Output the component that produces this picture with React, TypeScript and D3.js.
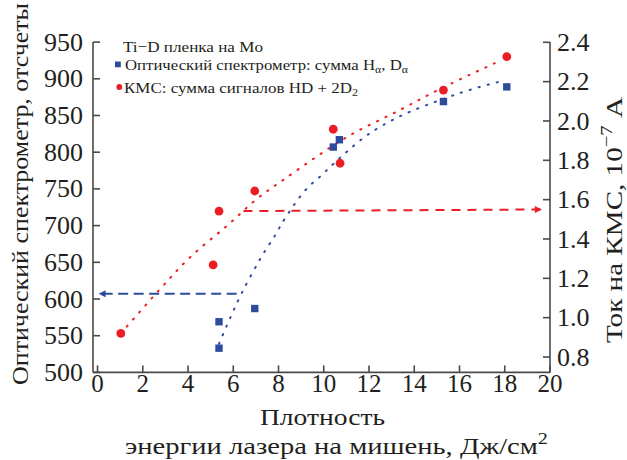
import React from "react";
import * as d3 from "d3";

const xTicks = [0, 2, 4, 6, 8, 10, 12, 14, 16, 18, 20];
const leftTicks = [500, 550, 600, 650, 700, 750, 800, 850, 900, 950];
const rightTicks = [0.8, 1.0, 1.2, 1.4, 1.6, 1.8, 2.0, 2.2, 2.4];

// Optical spectrometer (left axis), counts
const opticalX = [5.37, 5.37, 6.95, 10.42, 10.69, 15.29, 18.09];
const opticalY = [533, 569, 587, 807, 817, 869, 889];

// KMS signal (right axis), 10^-7 A
const kmsX = [1.03, 5.11, 5.37, 6.95, 10.42, 10.72, 15.29, 18.09];
const kmsY = [0.92, 1.268, 1.542, 1.644, 1.958, 1.785, 2.157, 2.327];

// Dotted trend lines
const opticalFitX = [5.37, 5.86, 6.39, 7.19, 7.85, 8.29, 9.18, 9.88, 10.46, 11.07, 12.0, 13.37, 15.14, 16.47, 17.88];
const opticalFitY = [539, 574, 609, 654.5, 687, 710, 748, 768, 785, 802, 825, 849, 871, 885, 897];
const kmsFitX = [1.03, 2.69, 4.09, 5.71, 7.04, 8.29, 11.02, 13.37, 15.29, 17.87];
const kmsFitY = [0.92, 1.136, 1.307, 1.466, 1.603, 1.707, 1.918, 2.056, 2.171, 2.31];

// Dashed arrows
const opticalArrowX = [6.15, 0.05];
const opticalArrowY = [607, 607];
const kmsArrowX = [6.45, 19.64];
const kmsArrowY = [1.542, 1.55];

const RED = "#ec1c24";
const BLUE = "#2d4d9c";
const AXIS = "#4a4a4a";
const TEXT = "#231f20";
const FONT = "Liberation Serif, Times New Roman, DejaVu Serif, serif";

export default function App() {
  const x = d3.scaleLinear().domain([-0.2, 20]).range([93, 550]);
  const yL = d3.scaleLinear().domain([500, 950]).range([372.4, 42.1]);
  const yR = d3.scaleLinear().domain([0.8, 2.4]).range([357, 42.3]);

  const optFit = d3
    .line<number>()
    .x((d, i) => x(opticalFitX[i]))
    .y((d, i) => yL(opticalFitY[i]))
    .curve(d3.curveCatmullRom.alpha(0.5))(opticalFitX);
  const kmsFit = d3
    .line<number>()
    .x((d, i) => x(kmsFitX[i]))
    .y((d, i) => yR(kmsFitY[i]))
    .curve(d3.curveCatmullRom.alpha(0.5))(kmsFitX);
  const optArrow = d3
    .line<number>()
    .x((d, i) => x(opticalArrowX[i]))
    .y((d, i) => yL(opticalArrowY[i]))(opticalArrowX);
  const kmsArrow = d3
    .line<number>()
    .x((d, i) => x(kmsArrowX[i]))
    .y((d, i) => yR(kmsArrowY[i]))(kmsArrowX);

  const yTop = 42.1;
  const yBot = 372.4;
  const xL = 93;
  const xR = 550;
  const tickLen = 7;
  const tf = { fontFamily: FONT };
  const stretch = "spacingAndGlyphs";

  return (
    <svg
      width={627}
      height={460}
      style={{ position: "absolute", left: 0, top: 0, background: "#fff", fontFamily: FONT }}
    >
      <defs>
        <marker id="arrowBlue" viewBox="0 0 10 10" refX="10" refY="5" markerWidth="9" markerHeight="7" markerUnits="userSpaceOnUse" orient="auto">
          <path d="M0,0 L10,5 L0,10 z" fill={BLUE} />
        </marker>
        <marker id="arrowRed" viewBox="0 0 10 10" refX="10" refY="5" markerWidth="9" markerHeight="7" markerUnits="userSpaceOnUse" orient="auto">
          <path d="M0,0 L10,5 L0,10 z" fill={RED} />
        </marker>
      </defs>

      {/* axes */}
      <g stroke={AXIS} strokeWidth={1.6} fill="none">
        <line x1={xL} y1={yTop} x2={xL} y2={yBot} />
        <line x1={xL} y1={yBot} x2={xR} y2={yBot} />
        <line x1={xR} y1={yTop} x2={xR} y2={yBot} />
        {leftTicks.map((t) => (
          <line key={"lt" + t} x1={xL} x2={xL + tickLen} y1={yL(t)} y2={yL(t)} />
        ))}
        {rightTicks.map((t) => (
          <line key={"rt" + t} x1={xR} x2={xR - tickLen} y1={yR(t)} y2={yR(t)} />
        ))}
        {xTicks.map((t) => (
          <line key={"xt" + t} x1={x(t)} x2={x(t)} y1={yBot} y2={yBot - tickLen} />
        ))}
      </g>

      {/* tick labels */}
      <g fill={TEXT} fontSize={26} style={tf}>
        {leftTicks.map((t) => (
          <text key={"ll" + t} x={83} y={yL(t)} dy="0.33em" textAnchor="end" style={tf}>
            {t}
          </text>
        ))}
        {rightTicks.map((t) => (
          <text key={"rl" + t} x={557} y={yR(t)} dy="0.33em" textAnchor="start" style={tf}>
            {t.toFixed(1)}
          </text>
        ))}
        {xTicks.map((t) => (
          <text key={"xl" + t} x={x(t)} y={392} textAnchor="middle" fontSize={25} style={tf}>
            {t}
          </text>
        ))}
      </g>

      {/* axis titles */}
      <g fill={TEXT} fontSize={24} style={tf}>
        <text x={260} y={425} textLength={125} lengthAdjust={stretch} style={tf}>Плотность</text>
        <text x={125} y={454} textLength={423} lengthAdjust={stretch} style={tf}>
          энергии лазера на мишень, Дж/см<tspan fontSize={17} dy={-10}>2</tspan>
        </text>
        <text transform="translate(28,385) rotate(-90)" textLength={382} lengthAdjust={stretch} style={tf}>
          Оптический спектрометр, отсчеты
        </text>
        <text transform="translate(622,343) rotate(-90)" textLength={246} lengthAdjust={stretch} style={tf}>
          Ток на КМС, 10<tspan fontSize={17} dy={-10}>−7</tspan>
          <tspan dy={10}> А</tspan>
        </text>
      </g>

      {/* fitted dotted lines */}
      <path d={kmsFit || ""} fill="none" stroke={RED} strokeWidth={2} strokeDasharray="1.2 8.1" strokeLinecap="round" />
      <path d={optFit || ""} fill="none" stroke={BLUE} strokeWidth={2} strokeDasharray="1.2 8.1" strokeLinecap="round" />

      {/* dashed arrows */}
      <path d={optArrow || ""} fill="none" stroke={BLUE} strokeWidth={2} strokeDasharray="10 5.5" markerEnd="url(#arrowBlue)" />
      <path d={kmsArrow || ""} fill="none" stroke={RED} strokeWidth={2} strokeDasharray="9 7" markerEnd="url(#arrowRed)" />

      {/* markers */}
      {opticalX.map((v, i) => (
        <rect key={"o" + i} x={x(v) - 3.7} y={yL(opticalY[i]) - 3.7} width={7.4} height={7.4} fill={BLUE} />
      ))}
      {kmsX.map((v, i) => (
        <circle key={"k" + i} cx={x(v)} cy={yR(kmsY[i])} r={4.4} fill={RED} />
      ))}

      {/* legend */}
      <g fill={TEXT} fontSize={15.5} style={tf}>
        <text x={123} y={51.5} textLength={140} lengthAdjust={stretch} style={tf}>Ti−D пленка на Mo</text>
        <rect x={115} y={61.5} width={5.8} height={5.8} fill={BLUE} />
        <text x={125} y={70} textLength={283} lengthAdjust={stretch} style={tf}>
          Оптический спектрометр: сумма H<tspan fontSize={11} dy={3}>α</tspan>
          <tspan dy={-3}>, D</tspan>
          <tspan fontSize={11} dy={3}>α</tspan>
        </text>
        <circle cx={119.3} cy={87} r={2.9} fill={RED} />
        <text x={124} y={93} textLength={234} lengthAdjust={stretch} style={tf}>
          КМС: сумма сигналов HD + 2D<tspan fontSize={11} dy={3}>2</tspan>
        </text>
      </g>
    </svg>
  );
}
